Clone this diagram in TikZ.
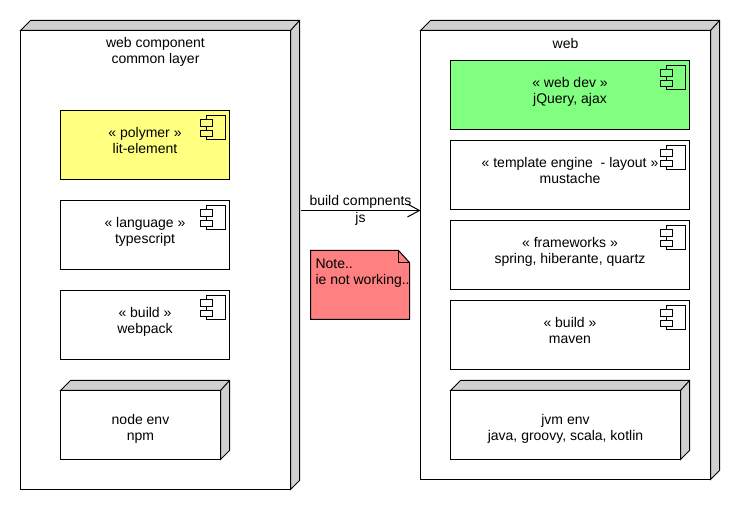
\documentclass[tikz,border=0pt]{standalone}
\usepackage{fontspec}
\setmainfont{Liberation Sans}
\usepackage{xcolor}
\usetikzlibrary{arrows.meta}

\definecolor{sidegray}{HTML}{D0D0D0}
\definecolor{compyellow}{HTML}{FFFF80}
\definecolor{compgreen}{HTML}{80FF80}
\definecolor{notered}{HTML}{FF8080}

\begin{document}
\begin{tikzpicture}[
    x=1pt, y=-1pt,
    line width=1pt,
    every node/.style={font=\fontsize{14}{16}\selectfont, inner sep=0pt, outer sep=0pt, align=center},
    envbox/.style={rectangle, draw, fill=white},
    comp/.style={rectangle, draw, fill=white, minimum height=69pt, text depth=10pt},
    inner/.style={minimum height=69pt, text height=34pt},
    side/.style={draw, fill=sidegray, line join=miter},
    arrow/.style={-{Straight Barb[length=12pt,width=13pt,line width=1pt]}},
    compicon/.pic={
        \draw (-23,5) rectangle (-4,29);
        \draw[pic actions] (-29,9) rectangle (-17,16);
        \draw[pic actions] (-29,20) rectangle (-17,26);
    }
]
    \useasboundingbox (-0.5,-0.5) rectangle (739.5,509.5);

    % Left node
    \node[envbox, minimum width=270pt, minimum height=459pt] (common) at (155,259.5) {};
    \node (commontitle) at (155,51) {web component\\common layer};

    \node[comp, minimum width=169pt, fill=compyellow] (polymer) at (144.5,144.5) {« polymer »\\lit-element};
    \node[comp, minimum width=169pt] (language) at (144.5,234.5) {« language »\\typescript};
    \node[comp, minimum width=169pt] (build) at (144.5,324.5) {« build »\\webpack};
    \node[envbox, inner, minimum width=160pt] (nodeenv) at (140,424.5) {node env\\npm};

    % Right node
    \node[envbox, minimum width=290pt, minimum height=449pt] (web) at (565,254.5) {};
    \node (webtitle) at (565,43) {web};

    \node[comp, minimum width=239pt, fill=compgreen] (webdev) at (569.5,94.5) {« web dev »\\jQuery, ajax};
    \node[comp, minimum width=239pt] (template) at (569.5,174.5) {« template engine~ - layout »\\mustache};
    \node[comp, minimum width=239pt] (frameworks) at (569.5,254.5) {« frameworks »\\spring, hiberante, quartz};
    \node[comp, minimum width=239pt] (maven) at (569.5,334.5) {« build »\\maven};
    \node[envbox, inner, minimum width=230pt] (jvmenv) at (565,424.5) {jvm env\\java, groovy, scala, kotlin};

    % 3d sides
    \foreach \n in {common, nodeenv, web, jvmenv} {
        \draw[side] (\n.north west) -- ([shift={(10,-10)}]\n.north west) -- ([shift={(9,-10)}]\n.north east)
            -- ([shift={(9,-9)}]\n.south east) -- (\n.south east) -- (\n.north east) -- cycle;
        \draw (\n.north east) -- ([shift={(9,-10)}]\n.north east);
    }

    % Component icons
    \foreach \n/\c in {polymer/compyellow, language/white, build/white, webdev/compgreen,
        template/white, frameworks/white, maven/white} {
        \pic[fill=\c] at (\n.north east) {compicon};
    }

    % Note
    \draw[fill=notered] (310,250) -- (398,250) -- (409,262) -- (409,319) -- (310,319) -- cycle;
    \draw (398,250) -- (398,262) -- (409,262);
    \node[anchor=north west, align=left] (note) at (315,258) {Note..\\ie not working..};

    % Connector
    \coordinate (commonout) at (300,210);
    \coordinate (webin) at (web.west |- commonout);
    \draw[arrow] (commonout) -- (webin);
    \node (buildlabel) at (360,201) {build compnents};
    \node (jslabel) at (360,218) {js};
\end{tikzpicture}
\end{document}
